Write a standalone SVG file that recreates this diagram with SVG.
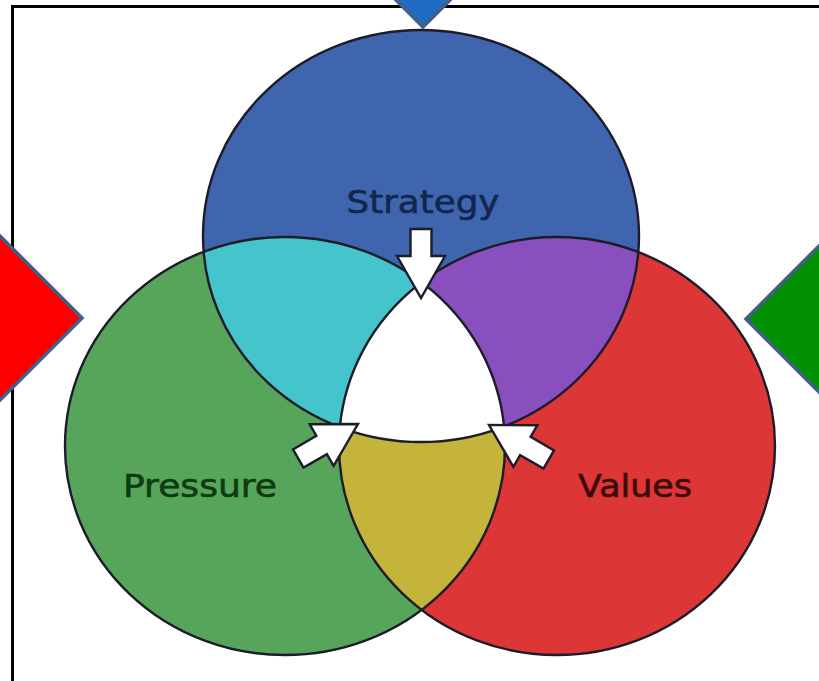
<svg xmlns="http://www.w3.org/2000/svg" width="819" height="681" viewBox="0 0 819 681">
  <style>
    .lbl { font-family: "DejaVu Sans", Verdana, sans-serif; font-size: 32px; text-anchor: middle; stroke-width: 0.6; }
    .outline { fill: none; stroke: #1c1c2a; stroke-width: 2.4; }
    .arrow { fill: #ffffff; stroke: #1c1c2a; stroke-width: 2.4; stroke-linejoin: miter; }
    .diamond { stroke: #3f5f8c; stroke-width: 3.5; }
  </style>
  <defs>
    <clipPath id="clipBlue"><ellipse cx="421" cy="236" rx="218" ry="206"/></clipPath>
    <clipPath id="clipGreen"><ellipse cx="285" cy="446" rx="220" ry="209"/></clipPath>
    <clipPath id="clipRed"><ellipse cx="557" cy="446" rx="218" ry="209"/></clipPath>
    <path id="arrowShape" d="M -10.5 -69 L 10.5 -69 L 10.5 -42 L 24 -42 L 0 0 L -24 -42 L -10.5 -42 Z"/>
  </defs>
  <rect width="819" height="681" fill="#ffffff"/>
  <rect id="frame" x="12.5" y="6.5" width="830" height="700" fill="none" stroke="#000000" stroke-width="3"/>

  <g id="circle-strategy">
    <ellipse cx="421" cy="236" rx="218" ry="206" fill="#3e65ad"/>
  </g>
  <g id="circle-pressure">
    <ellipse cx="285" cy="446" rx="220" ry="209" fill="#57a55a"/>
  </g>
  <g id="circle-values">
    <ellipse cx="557" cy="446" rx="218" ry="209" fill="#dc3636"/>
  </g>
  <g id="overlap-strategy-pressure">
    <ellipse cx="285" cy="446" rx="220" ry="209" fill="#45c5cb" clip-path="url(#clipBlue)"/>
  </g>
  <g id="overlap-strategy-values">
    <ellipse cx="557" cy="446" rx="218" ry="209" fill="#8a4fbf" clip-path="url(#clipBlue)"/>
  </g>
  <g id="overlap-pressure-values">
    <ellipse cx="557" cy="446" rx="218" ry="209" fill="#c5b43b" clip-path="url(#clipGreen)"/>
  </g>
  <g id="center" clip-path="url(#clipBlue)">
    <ellipse cx="557" cy="446" rx="218" ry="209" fill="#ffffff" clip-path="url(#clipGreen)"/>
  </g>
  <g id="outlines">
    <ellipse class="outline" cx="421" cy="236" rx="218" ry="206"/>
    <ellipse class="outline" cx="285" cy="446" rx="220" ry="209"/>
    <ellipse class="outline" cx="557" cy="446" rx="218" ry="209"/>
  </g>

  <g id="labels">
    <text class="lbl" x="423" y="213" fill="#13264f" stroke="#13264f" textLength="153" lengthAdjust="spacingAndGlyphs">Strategy</text>
    <text class="lbl" x="200" y="497" fill="#0f3a13" stroke="#0f3a13" textLength="154" lengthAdjust="spacingAndGlyphs">Pressure</text>
    <text class="lbl" x="635" y="497" fill="#3b0c0c" stroke="#3b0c0c" textLength="114" lengthAdjust="spacingAndGlyphs">Values</text>
  </g>

  <g id="connectors">
    <use href="#arrowShape" class="arrow" transform="translate(421,298)"/>
    <use href="#arrowShape" class="arrow" transform="translate(358,424) rotate(-120)"/>
    <use href="#arrowShape" class="arrow" transform="translate(489,425) rotate(120)"/>
  </g>

  <g id="diamond-top">
    <polygon class="diamond" points="423,27 483,-33 423,-93 363,-33" fill="#1f6dc2"/>
  </g>
  <g id="diamond-left">
    <polygon class="diamond" points="82,318 0,236 -82,318 0,400" fill="#ff0000"/>
  </g>
  <g id="diamond-right">
    <polygon class="diamond" points="746,319 828,237 910,319 828,401" fill="#009000"/>
  </g>
</svg>
